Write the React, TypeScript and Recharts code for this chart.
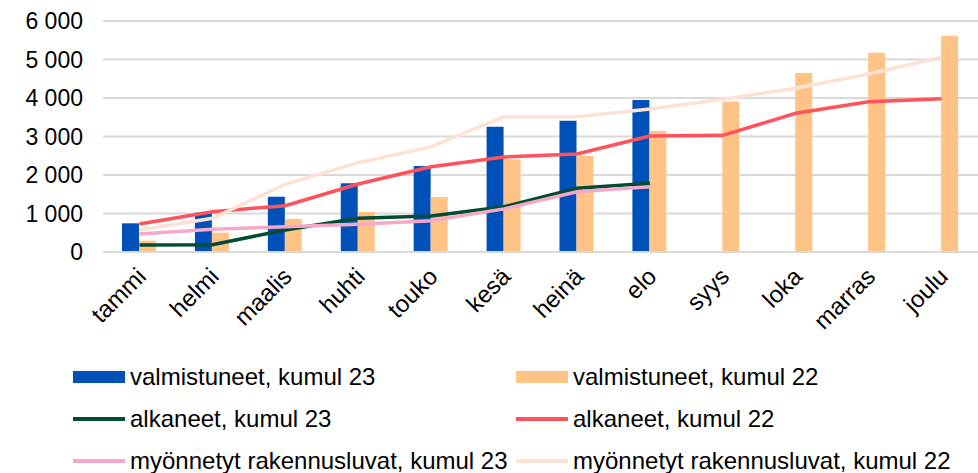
import React from "react";
import {
  Bar,
  CartesianGrid,
  ComposedChart,
  Legend,
  Line,
  XAxis,
  YAxis,
} from "recharts";

const months = [
  "tammi",
  "helmi",
  "maalis",
  "huhti",
  "touko",
  "kesä",
  "heinä",
  "elo",
  "syys",
  "loka",
  "marras",
  "joulu",
];

const valmistuneet23 = [745, 1020, 1437, 1783, 2234, 3255, 3410, 3948, null, null, null, null];
const valmistuneet22 = [294, 500, 857, 1039, 1429, 2407, 2494, 3143, 3904, 4649, 5177, 5618];
const alkaneet23 = [182, 190, 571, 875, 935, 1177, 1654, 1784, null, null, null, null];
const alkaneet22 = [727, 1047, 1203, 1766, 2216, 2470, 2545, 3013, 3030, 3602, 3904, 3983];
const luvat23 = [470, 590, 657, 719, 813, 1120, 1566, 1696, null, null, null, null];
const luvat22 = [570, 875, 1758, 2320, 2735, 3514, 3514, 3714, 3966, 4252, 4623, 5057];

const yTicks = [0, 1000, 2000, 3000, 4000, 5000, 6000];

const data = months.map((month, i) => ({
  month,
  v23: valmistuneet23[i],
  v22: valmistuneet22[i],
  a23: alkaneet23[i],
  a22: alkaneet22[i],
  l23: luvat23[i],
  l22: luvat22[i],
}));

const legendItems = [
  { name: "valmistuneet, kumul 23", color: "#0050b9", kind: "bar" },
  { name: "valmistuneet, kumul 22", color: "#ffc385", kind: "bar" },
  { name: "alkaneet, kumul 23", color: "#004d33", kind: "line" },
  { name: "alkaneet, kumul 22", color: "#ff525a", kind: "line" },
  { name: "myönnetyt rakennusluvat, kumul 23", color: "#f7a8c8", kind: "line" },
  { name: "myönnetyt rakennusluvat, kumul 22", color: "#fbe2d5", kind: "line" },
];

const font = "'Liberation Sans', Arial, sans-serif";

const fmt = (v: number) => String(v).replace(/\B(?=(\d{3})+(?!\d))/g, " ");

const MonthTick = ({ x, y, payload }: any) => (
  <g transform={`translate(${x + 8},${y + 18})`}>
    <text
      x={0}
      y={0}
      textAnchor="end"
      transform="rotate(-45)"
      fontSize={24}
      fontFamily={font}
      fill="#000"
    >
      {payload.value}
    </text>
  </g>
);

const ChartLegend = () => (
  <div style={{ position: "relative", width: 978, height: 120, fontFamily: font }}>
    {legendItems.map((item, i) => {
      const col = i % 2;
      const row = Math.floor(i / 2);
      return (
        <div
          key={item.name}
          style={{
            position: "absolute",
            left: col === 0 ? 73 : 516,
            top: row * 42,
            height: 26,
            display: "flex",
            alignItems: "center",
            fontSize: 24,
            color: "#000",
            whiteSpace: "nowrap",
          }}
        >
          <span
            style={{
              display: "inline-block",
              width: 52,
              height: item.kind === "bar" ? 12 : 4,
              background: item.color,
              marginRight: 5,
            }}
          />
          {item.name}
        </div>
      );
    })}
  </div>
);

export default function App() {
  return (
    <div style={{ position: "absolute", left: 0, top: 0, width: 978, height: 473, background: "#fff" }}>
      <ComposedChart
        width={978}
        height={473}
        data={data}
        margin={{ top: 21, right: 0, left: 0, bottom: 141 }}
        barSize={17}
        barGap={0}
      >
        <CartesianGrid vertical={false} stroke="#d9d9d9" strokeWidth={2} />
        <XAxis
          dataKey="month"
          height={80}
          axisLine={{ stroke: "#d9d9d9", strokeWidth: 2 }}
          tickLine={false}
          interval={0}
          tick={<MonthTick />}
        />
        <YAxis
          width={103}
          domain={[0, 6000]}
          ticks={yTicks}
          axisLine={false}
          tickLine={false}
          tickMargin={14}
          tickFormatter={fmt}
          tick={{ fontSize: 23, fill: "#000", fontFamily: font }}
        />
        <Bar dataKey="v23" name={legendItems[0].name} fill={legendItems[0].color} isAnimationActive={false} />
        <Bar dataKey="v22" name={legendItems[1].name} fill={legendItems[1].color} isAnimationActive={false} />
        <Line type="linear" dataKey="a23" name={legendItems[2].name} stroke={legendItems[2].color} strokeWidth={3.5} dot={false} isAnimationActive={false} />
        <Line type="linear" dataKey="a22" name={legendItems[3].name} stroke={legendItems[3].color} strokeWidth={3.5} dot={false} isAnimationActive={false} />
        <Line type="linear" dataKey="l23" name={legendItems[4].name} stroke={legendItems[4].color} strokeWidth={3.5} dot={false} isAnimationActive={false} />
        <Line type="linear" dataKey="l22" name={legendItems[5].name} stroke={legendItems[5].color} strokeWidth={3.5} dot={false} isAnimationActive={false} />
        <Legend
          layout="horizontal"
          verticalAlign="middle"
          align="center"
          wrapperStyle={{ top: 364, left: 0, width: 978 }}
          content={<ChartLegend />}
        />
      </ComposedChart>
    </div>
  );
}
